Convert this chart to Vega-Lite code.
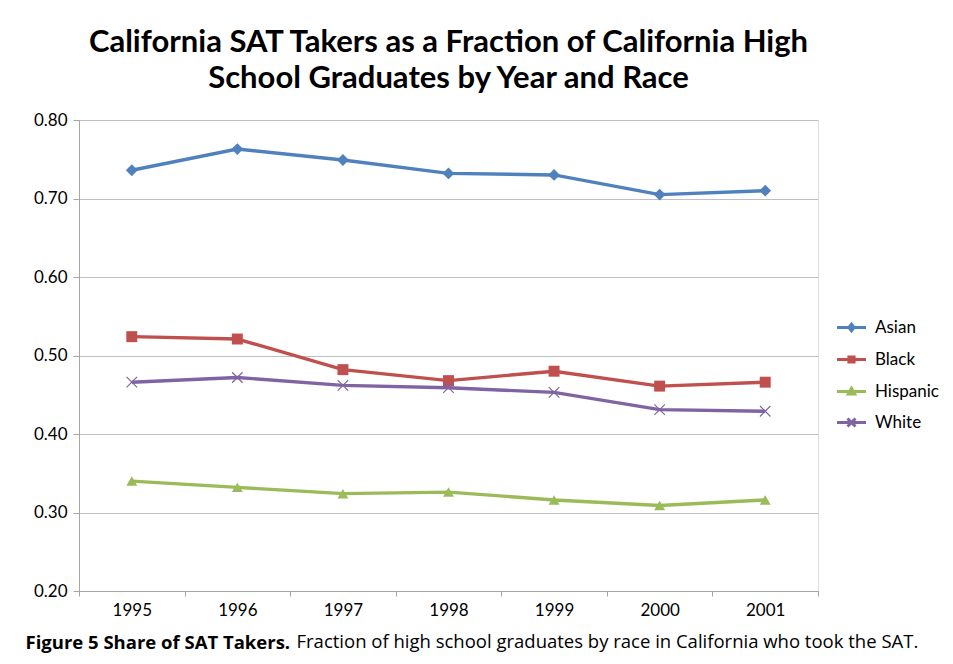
{
  "$schema": "https://vega.github.io/schema/vega-lite/v6.json",
  "autosize": {"type": "none"},
  "width": 739,
  "height": 471,
  "padding": {"left": 79, "top": 120, "right": 135, "bottom": 73},
  "background": "white",
  "title": {
    "text": ["California SAT Takers as a Fraction of California High", "School Graduates by Year and Race"],
    "font": "Lato",
    "fontSize": 31,
    "fontWeight": "bold",
    "color": "black",
    "anchor": "middle",
    "lineHeight": 36,
    "offset": 16
  },
  "data": {
    "values": [
      {"year": "1995", "race": "Asian", "value": 0.736},
      {"year": "1996", "race": "Asian", "value": 0.763},
      {"year": "1997", "race": "Asian", "value": 0.749},
      {"year": "1998", "race": "Asian", "value": 0.732},
      {"year": "1999", "race": "Asian", "value": 0.730},
      {"year": "2000", "race": "Asian", "value": 0.705},
      {"year": "2001", "race": "Asian", "value": 0.710},
      {"year": "1995", "race": "Black", "value": 0.524},
      {"year": "1996", "race": "Black", "value": 0.521},
      {"year": "1997", "race": "Black", "value": 0.482},
      {"year": "1998", "race": "Black", "value": 0.468},
      {"year": "1999", "race": "Black", "value": 0.480},
      {"year": "2000", "race": "Black", "value": 0.461},
      {"year": "2001", "race": "Black", "value": 0.466},
      {"year": "1995", "race": "Hispanic", "value": 0.340},
      {"year": "1996", "race": "Hispanic", "value": 0.332},
      {"year": "1997", "race": "Hispanic", "value": 0.324},
      {"year": "1998", "race": "Hispanic", "value": 0.326},
      {"year": "1999", "race": "Hispanic", "value": 0.316},
      {"year": "2000", "race": "Hispanic", "value": 0.309},
      {"year": "2001", "race": "Hispanic", "value": 0.316},
      {"year": "1995", "race": "White", "value": 0.466},
      {"year": "1996", "race": "White", "value": 0.472},
      {"year": "1997", "race": "White", "value": 0.462},
      {"year": "1998", "race": "White", "value": 0.459},
      {"year": "1999", "race": "White", "value": 0.453},
      {"year": "2000", "race": "White", "value": 0.431},
      {"year": "2001", "race": "White", "value": 0.429}
    ]
  },
  "encoding": {
    "x": {
      "field": "year",
      "type": "ordinal",
      "scale": {"type": "band", "paddingInner": 0, "paddingOuter": 0},
      "axis": {
        "title": "Figure 5 Share of SAT Takers.",
        "titleFont": "Open Sans",
        "titleFontSize": 18.5,
        "titleFontWeight": "bold",
        "titleColor": "black",
        "titleX": -54,
        "titleY": 57,
        "titleAlign": "left",
        "titleAnchor": "start",
        "titleBaseline": "alphabetic",
        "titleAngle": 0,
        "labelAngle": 0,
        "tickBand": "extent",
        "domainColor": "#A6A6A6",
        "tickColor": "#A6A6A6",
        "tickSize": 5,
        "labelFont": "Lato",
        "labelFontSize": 17,
        "labelColor": "black",
        "labelPadding": 6,
        "grid": false
      }
    },
    "y": {
      "field": "value",
      "type": "quantitative",
      "scale": {"domain": [0.2, 0.8], "nice": false, "zero": false},
      "axis": {
        "values": [0.2, 0.3, 0.4, 0.5, 0.6, 0.7, 0.8],
        "format": ".2f",
        "grid": true,
        "gridColor": "#BFBFBF",
        "domainColor": "#A6A6A6",
        "tickColor": "#A6A6A6",
        "tickSize": 6,
        "labelFont": "Lato",
        "labelFontSize": 17,
        "labelColor": "black",
        "labelPadding": 6,
        "title": "Fraction of high school graduates by race in California who took the SAT.",
        "titleAngle": 0,
        "titleX": 217,
        "titleY": 527,
        "titleAlign": "left",
        "titleAnchor": "start",
        "titleBaseline": "alphabetic",
        "titleFont": "Open Sans",
        "titleFontSize": 18.5,
        "titleFontWeight": "normal",
        "titleColor": "black"
      }
    }
  },
  "layer": [
    {
      "mark": {"type": "line", "strokeWidth": 3.4},
      "encoding": {
        "color": {
          "field": "race",
          "type": "nominal",
          "scale": {"domain": ["Asian", "Black", "Hispanic", "White"], "range": ["#4F81BD", "#C0504D", "#9BBB59", "#8064A2"]},
          "legend": {
            "title": null,
            "orient": "none",
            "legendX": 761,
            "legendY": 196,
            "padding": 0,
            "symbolSize": 400,
            "symbolOpacity": 1,
            "symbolStrokeWidth": 3,
            "rowPadding": 11,
            "labelOffset": 12,
            "labelFont": "Lato",
            "labelFontSize": 17,
            "labelColor": "black"
          }
        }
      }
    },
    {
      "transform": [{"filter": "datum.race === 'Asian'"}],
      "mark": {"type": "point", "shape": "diamond", "filled": true, "size": 140, "opacity": 1, "color": "#4F81BD"}
    },
    {
      "transform": [{"filter": "datum.race === 'Black'"}],
      "mark": {"type": "point", "shape": "square", "filled": true, "size": 120, "opacity": 1, "color": "#C0504D"}
    },
    {
      "transform": [{"filter": "datum.race === 'Hispanic'"}],
      "mark": {"type": "point", "shape": "triangle-up", "filled": true, "size": 120, "opacity": 1, "color": "#9BBB59"}
    },
    {
      "transform": [{"filter": "datum.race === 'White'"}],
      "mark": {"type": "point", "shape": "M-1,-1L1,1M-1,1L1,-1", "filled": false, "size": 110, "opacity": 1, "strokeWidth": 1.2, "color": "#8064A2"}
    },
    {
      "mark": {"type": "point", "filled": false, "opacity": 0},
      "encoding": {
        "color": {
          "field": "race",
          "type": "nominal",
          "legend": {
            "title": null,
            "orient": "none",
            "legendX": 761,
            "legendY": 196,
            "padding": 0,
            "symbolSize": 400,
            "symbolOpacity": 1,
            "symbolStrokeWidth": 3,
            "rowPadding": 11,
            "labelOffset": 12,
            "labelFont": "Lato",
            "labelFontSize": 17,
            "labelColor": "black"
          }
        },
        "shape": {
          "field": "race",
          "type": "nominal",
          "scale": {
            "domain": ["Asian", "Black", "Hispanic", "White"],
            "range": [
              "M-1.45,0H1.45M0,-0.34L0.26,0L0,0.34L-0.26,0Z",
              "M-1.45,0H1.45M-0.26,-0.26H0.26V0.26H-0.26Z",
              "M-1.45,0H1.45M0,-0.32L0.32,0.24H-0.32Z",
              "M-1.45,0H1.45M-0.4,-0.4L0.4,0.4M-0.4,0.4L0.4,-0.4"
            ]
          },
          "legend": {
            "title": null,
            "orient": "none",
            "legendX": 761,
            "legendY": 196,
            "padding": 0,
            "symbolSize": 400,
            "symbolOpacity": 1,
            "symbolStrokeWidth": 3,
            "rowPadding": 11,
            "labelOffset": 12,
            "labelFont": "Lato",
            "labelFontSize": 17,
            "labelColor": "black"
          }
        }
      }
    }
  ]
}
